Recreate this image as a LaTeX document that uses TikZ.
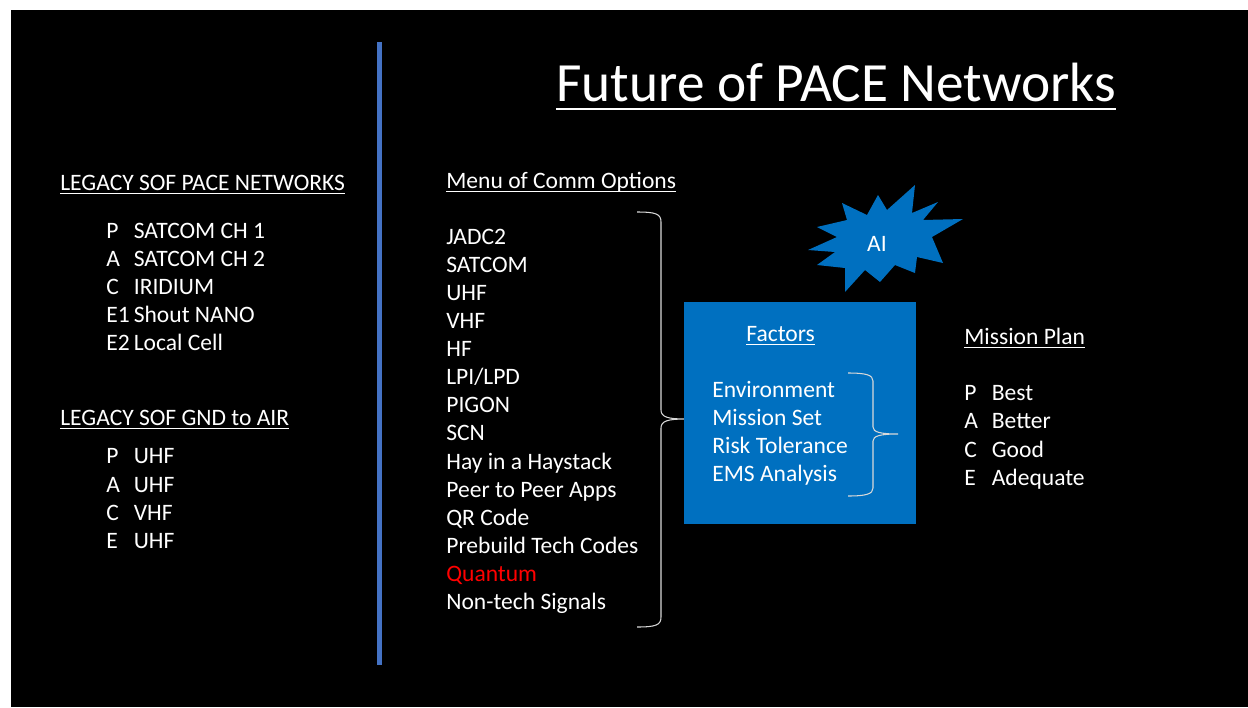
\documentclass[tikz,border=0pt]{standalone}
\usepackage{fontspec}
\setmainfont{Carlito}
\definecolor{slideblue}{HTML}{0070C0}
\definecolor{rulerblue}{HTML}{4472C4}
\definecolor{quantred}{HTML}{FF0000}
% underline: gap, thickness, text
\newcommand{\uln}[3]{\vtop{\setbox0\hbox{#3}\dp0=0pt\box0\kern#1\hrule height#2}}
\newcommand{\ulhead}[1]{\uln{1.5pt}{0.7pt}{#1}}
\newcommand{\pcol}[2]{\makebox[0.55cm][l]{#1}#2}

\begin{document}
\begin{tikzpicture}
    [x=0.02cm, y=-0.02cm,
      txt/.style={anchor=base west, inner sep=0pt, text=white,
          font=\fontsize{13.4}{15}\selectfont},
      brc/.style={draw=white!85!black, line width=0.6pt}
    ]
    % slide
    \fill[white] (0,0) rectangle (1248,707);
    \fill[black] (11,10) rectangle (1248,707);
    \fill[rulerblue] (376.5,42) rectangle (381.5,665);

    % title
    \node [txt, font=\fontsize{31.5}{36}\selectfont] (title) at (556,101)
      {\uln{4pt}{1.3pt}{Future of PACE Networks}};

    % legacy pace
    \node [txt] (legpace) at (60,190) {\ulhead{LEGACY SOF PACE NETWORKS}};
    \node [txt] (lp1) at (106,238) {\pcol{P}{SATCOM CH 1}};
    \node [txt] (lp2) at (106,266) {\pcol{A}{SATCOM CH 2}};
    \node [txt] (lp3) at (106,294) {\pcol{C}{IRIDIUM}};
    \node [txt] (lp4) at (106,322) {\pcol{E1}{Shout NANO}};
    \node [txt] (lp5) at (106,350) {\pcol{E2}{Local Cell}};

    % legacy gnd to air
    \node [txt] (leggnd) at (60,425) {\ulhead{LEGACY SOF GND to AIR}};
    \node [txt] (lg1) at (106,463) {\pcol{P}{UHF}};
    \node [txt] (lg2) at (106,492) {\pcol{A}{UHF}};
    \node [txt] (lg3) at (106,520) {\pcol{C}{VHF}};
    \node [txt] (lg4) at (106,548) {\pcol{E}{UHF}};

    % menu
    \node [txt] (menu) at (446,188) {\ulhead{Menu of Comm Options}};
    \node [txt] (m1) at (446,244) {JADC2};
    \node [txt] (m2) at (446,272) {SATCOM};
    \node [txt] (m3) at (446,300) {UHF};
    \node [txt] (m4) at (446,328) {VHF};
    \node [txt] (m5) at (446,356) {HF};
    \node [txt] (m6) at (446,384) {LPI/LPD};
    \node [txt] (m7) at (446,412) {PIGON};
    \node [txt] (m8) at (446,440) {SCN};
    \node [txt] (m9) at (446,469) {Hay in a Haystack};
    \node [txt] (m10) at (446,497) {Peer to Peer Apps};
    \node [txt] (m11) at (446,525) {QR Code};
    \node [txt] (m12) at (446,553) {Prebuild Tech Codes};
    \node [txt, text=quantred] (m13) at (446,581) {Quantum};
    \node [txt] (m14) at (446,609) {Non-tech Signals};
    \coordinate (menutop) at (637,212);
    \coordinate (menubot) at (637,627);
    \draw [brc] (menutop) .. controls (656,212) and (661,214) .. (661,222)
      -- (661,410) .. controls (661,417) and (668,419) .. (685,419)
      .. controls (668,419) and (661,421) .. (661,428)
      -- (661,617) .. controls (661,625) and (656,627) .. (menubot);

    % AI burst
    \fill[slideblue] (915,185) -- (912,213) -- (938,202) -- (923,220) -- (963,219)
      -- (932,237) -- (943,263) -- (917,257) -- (915,273) -- (895,265)
      -- (880,282) -- (865,270) -- (845,292) -- (845,268) -- (817,265)
      -- (835,252) -- (808,250) -- (837,237) -- (817,227) -- (847,220)
      -- (842,203) -- (867,215) -- (878,195) -- (887,210) -- cycle;
    \node [text=white, font=\fontsize{13.4}{15}\selectfont] (ai) at (877,244) {AI};

    % factors box
    \node [fill=slideblue, minimum width=4.64cm, minimum height=4.44cm,
      inner sep=0pt, anchor=north west] (factbox) at (684,302) {};
    \node [txt] (fact) at (746,341) {\ulhead{Factors}};
    \node [txt] (f1) at (712,397) {Environment};
    \node [txt] (f2) at (712,425) {Mission Set};
    \node [txt] (f3) at (712,453) {Risk Tolerance};
    \node [txt] (f4) at (712,481) {EMS Analysis};
    \coordinate (facttop) at (848,373);
    \coordinate (factbot) at (848,496);
    \draw [brc] (facttop) .. controls (866,373) and (873,375) .. (873,381)
      -- (873,427) .. controls (873,432) and (880,434) .. (898,434)
      .. controls (880,434) and (873,436) .. (873,441)
      -- (873,488) .. controls (873,494) and (866,496) .. (factbot);

    % mission plan
    \node [txt] (plan) at (964,344) {\ulhead{Mission Plan}};
    \node [txt] (p1) at (964,400) {\pcol{P}{Best}};
    \node [txt] (p2) at (964,428) {\pcol{A}{Better}};
    \node [txt] (p3) at (964,457) {\pcol{C}{Good}};
    \node [txt] (p4) at (964,485) {\pcol{E}{Adequate}};
  \end{tikzpicture}
\end{document}
